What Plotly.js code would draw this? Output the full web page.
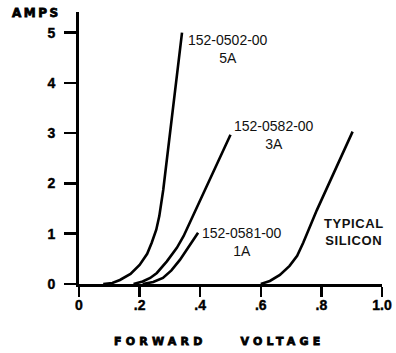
<!DOCTYPE html>
<html>
<head>
<meta charset="utf-8">
<script src="https://cdn.plot.ly/plotly-3.0.1.min.js"></script>
<style>html,body{margin:0;padding:0;background:#fff;}#chart{width:396px;height:353px;}</style>
</head>
<body>
<div id="chart"></div>
<script>
// Forward voltage (V) vs current (A)
const v5A = [0.08, 0.11, 0.135, 0.17, 0.20, 0.225, 0.24, 0.255, 0.265, 0.272, 0.278, 0.34];
const i5A = [0, 0.02, 0.08, 0.20, 0.38, 0.60, 0.82, 1.08, 1.35, 1.60, 1.87, 5.0];

const v3A = [0.18, 0.21, 0.235, 0.257, 0.29, 0.323, 0.345, 0.366, 0.416, 0.50];
const i3A = [0, 0.05, 0.12, 0.22, 0.45, 0.72, 0.95, 1.22, 1.87, 2.97];

const v1A = [0.21, 0.245, 0.277, 0.305, 0.333, 0.366, 0.393];
const i1A = [0, 0.04, 0.12, 0.27, 0.48, 0.78, 1.02];

const vSi = [0.60, 0.63, 0.663, 0.695, 0.72, 0.74, 0.785, 0.903];
const iSi = [0, 0.06, 0.18, 0.36, 0.56, 0.82, 1.47, 3.03];

const xTickVals = [0, 0.2, 0.4, 0.6, 0.8, 1.0];
const xTickText = ["0", ".2", ".4", ".6", ".8", "1.0"];
const yTickVals = [0, 1, 2, 3, 4, 5];
const yTickText = ["0", "1", "2", "3", "4", "5"];

const curveLabels = ["152-0502-00<br>5A", "152-0582-00<br>3A", "152-0581-00<br>1A", "<b>TYPICAL</b><br><b>SILICON</b>"];
const labelX = [0.493, 0.645, 0.538, 0.9076];
const labelY = [4.67, 2.97, 0.845, 1.03];

const lineStyle = {color: "#000", width: 2.6};
const traces = [
  {x: v5A, y: i5A, mode: "lines", line: lineStyle, hoverinfo: "skip"},
  {x: v3A, y: i3A, mode: "lines", line: lineStyle, hoverinfo: "skip"},
  {x: v1A, y: i1A, mode: "lines", line: lineStyle, hoverinfo: "skip"},
  {x: vSi, y: iSi, mode: "lines", line: lineStyle, hoverinfo: "skip"}
];

const tickFont = {family: "Liberation Sans, Arial, sans-serif", size: 14, weight: "bold", color: "#000"};

const annotations = curveLabels.map((t, k) => ({
  x: labelX[k], y: labelY[k], xref: "x", yref: "y", text: t, showarrow: false,
  xanchor: "center", yanchor: "middle", align: "center",
  font: k === 3
    ? {family: "Liberation Sans, Arial, sans-serif", size: 13, color: "#111"}
    : {family: "Liberation Sans, Arial, sans-serif", size: 14, color: "#111"}
}));
annotations.push({
  x: -0.228, y: 0.996, xref: "paper", yref: "paper", text: "<b>AMPS</b>", showarrow: false,
  xanchor: "left", yanchor: "middle", align: "left",
  font: {family: "DejaVu Sans", size: 12, color: "#000"}
});
annotations.push({
  x: 0.109, y: -0.213, xref: "paper", yref: "paper", text: "<b>FORWARD VOLTAGE</b>", showarrow: false,
  xanchor: "left", yanchor: "middle", align: "left",
  font: {family: "DejaVu Sans", size: 11, color: "#000"}
});

const layout = {
  width: 396, height: 353,
  margin: {l: 79, r: 14, t: 12, b: 69},
  paper_bgcolor: "#fff", plot_bgcolor: "#fff",
  showlegend: false,
  xaxis: {
    range: [0, 1], showgrid: false, zeroline: false,
    showline: true, linecolor: "#000", linewidth: 3,
    ticks: "outside", ticklen: 10, tickwidth: 2.5, tickcolor: "#000",
    tickvals: xTickVals, ticktext: xTickText, tickfont: tickFont,
    fixedrange: true
  },
  yaxis: {
    range: [0, 5.41], showgrid: false, zeroline: false,
    showline: true, linecolor: "#000", linewidth: 3,
    ticks: "outside", ticklen: 12, tickwidth: 2.5, tickcolor: "#000",
    tickvals: yTickVals, ticktext: yTickText, tickfont: tickFont,
    fixedrange: true
  },
  annotations: annotations
};

function shiftText(sel, dx, dy) {
  document.querySelectorAll(sel).forEach(el => {
    const tr = el.getAttribute("transform") || "";
    el.setAttribute("transform", tr + " translate(" + dx + "," + dy + ")");
    el.style.stroke = "#000";
    el.style.strokeWidth = "0.4px";
  });
}

Plotly.newPlot("chart", traces, layout, {staticPlot: true, displayModeBar: false}).then(() => {
  document.querySelectorAll(".annotation-text").forEach(el => {
    const t = el.textContent;
    if (t === "AMPS") { el.style.letterSpacing = "2.5px"; el.style.stroke = "#000"; el.style.strokeWidth = "0.8px"; }
    if (t === "FORWARD VOLTAGE") { el.style.letterSpacing = "4.2px"; el.style.wordSpacing = "26px"; el.style.stroke = "#000"; el.style.strokeWidth = "0.8px"; }
    if (t.indexOf("TYPICAL") === 0) { el.style.letterSpacing = "0.6px"; }
  });
  // nudge tick labels (not the ticks) to match the reference spacing
  shiftText(".ytick text", -6, 0);
  shiftText(".xtick text", 0, -4);
});
</script>
</body>
</html>
